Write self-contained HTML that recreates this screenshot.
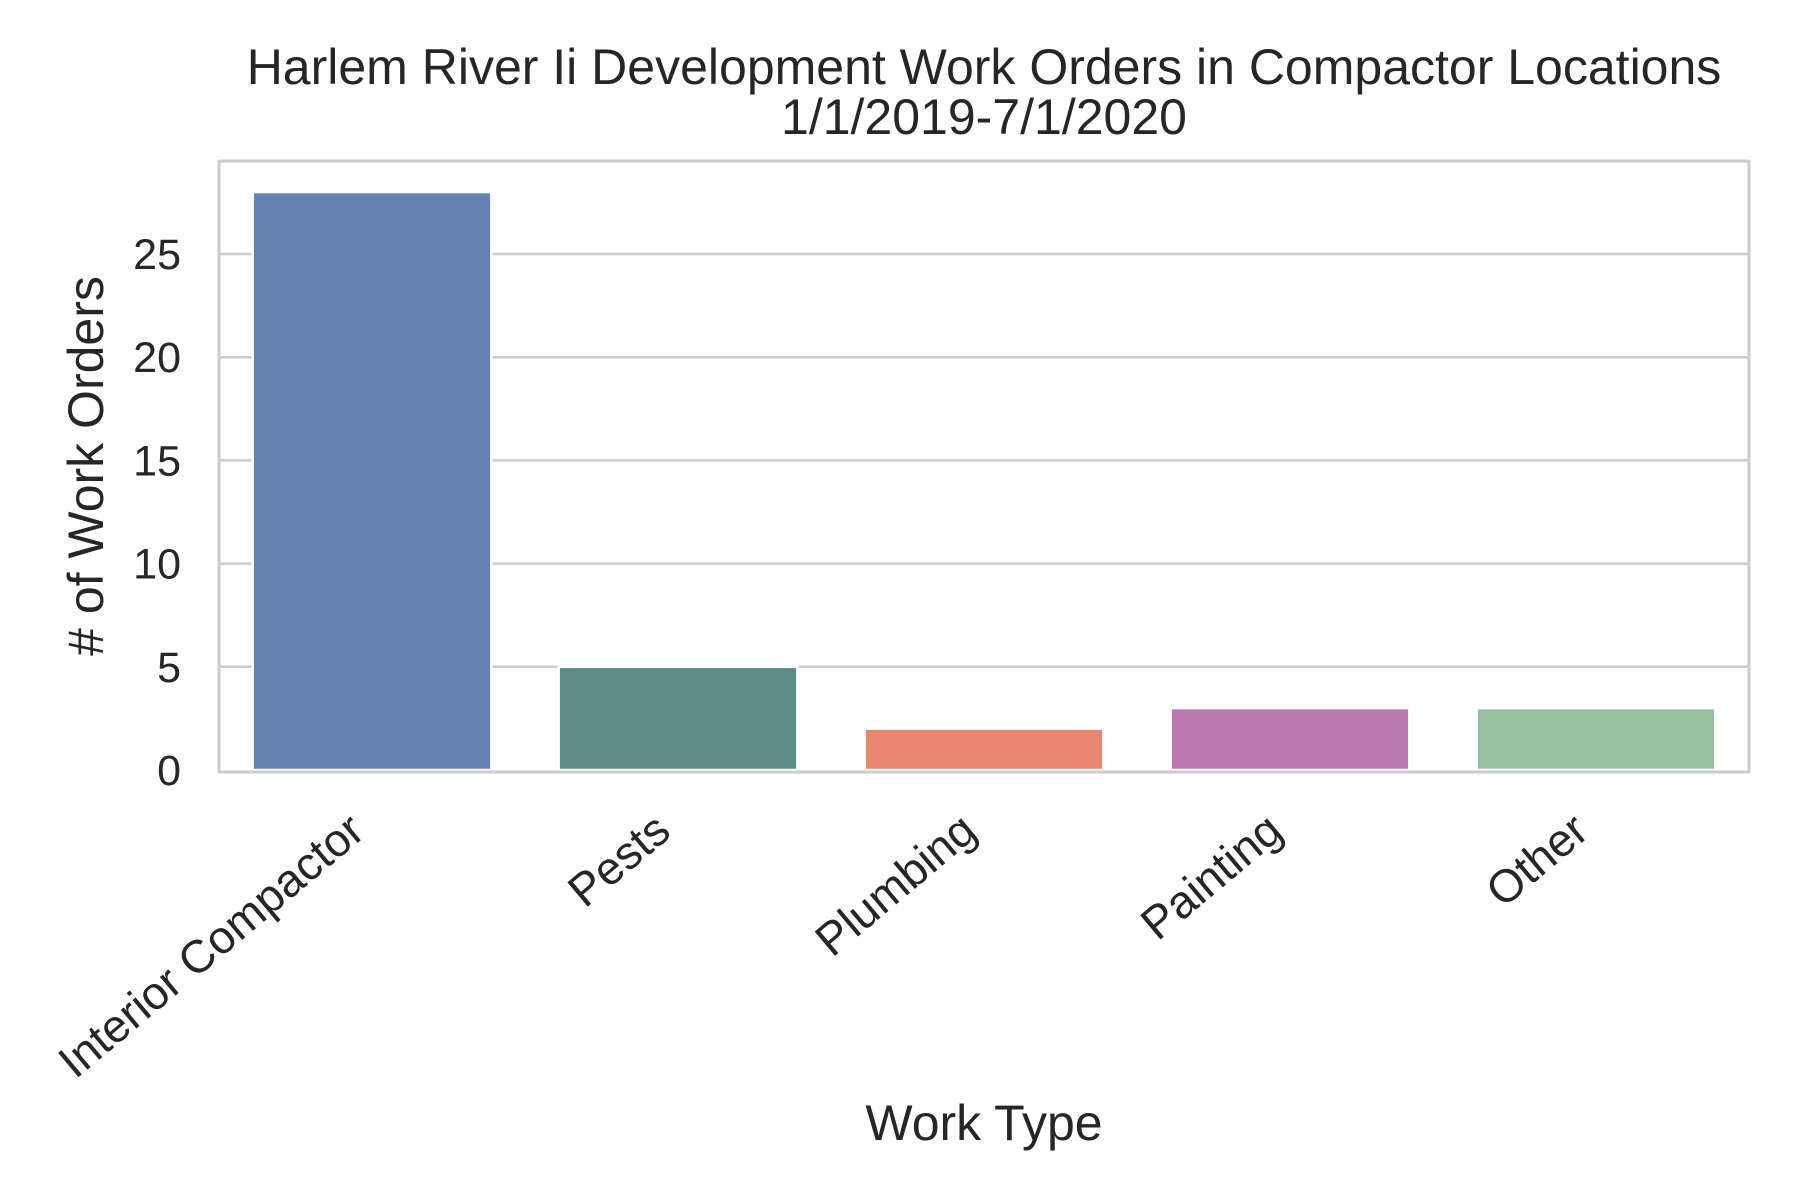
<!DOCTYPE html>
<html><head><meta charset="utf-8"><style>body{margin:0;background:#fff}svg{display:block}text{font-family:"Liberation Sans",Arial,sans-serif;fill:#262626}</style></head>
<body>
<svg id="chart" width="1800" height="1200" xmlns="http://www.w3.org/2000/svg">
<text x="984" y="84" font-size="50" text-anchor="middle">Harlem River Ii Development Work Orders in Compactor Locations</text>
<text x="984" y="134" font-size="50" text-anchor="middle">1/1/2019-7/1/2020</text>
<g id="grid"></g><g id="bars"></g><g id="yticks"></g><g id="xticks"></g>
<rect x="219" y="161" width="1530" height="611" fill="none" stroke="#cccccc" stroke-width="3"/>
<text transform="translate(103,466) rotate(-90)" font-size="50" text-anchor="middle"># of Work Orders</text>
<text x="984" y="1140" font-size="50" text-anchor="middle">Work Type</text>
</svg>
<script>
const categories=["Interior Compactor","Pests","Plumbing","Painting","Other"];
const values=[28,5,2,3,3];
const colors=["#6581b1","#5c8a87","#e9866f","#be7aae","#96c0a2"];
const yTicks=[0,5,10,15,20,25];
const NS="http://www.w3.org/2000/svg";
const L=219,R=1749,T=161,B=772;
const y0=770,yUnit=(770-254)/25;
function ys(v){return y0-v*yUnit;}
const step=(R-L)/categories.length;
function xc(i){return L+step*(i+0.5);}
const bw=step*0.78;
function mk(t,a,p){const e=document.createElementNS(NS,t);for(const k in a)e.setAttribute(k,a[k]);document.getElementById(p).appendChild(e);return e;}
yTicks.forEach(v=>{
 if(v>0){const g=mk('line',{x1:L,x2:R,y1:ys(v),y2:ys(v),stroke:'#cccccc','stroke-width':2.5},'grid');
 
 }
 const t=mk('text',{x:181,y:ys(v)+15,'font-size':43,'text-anchor':'end'},'yticks');t.textContent=v;
 
 
});
categories.forEach((c,i)=>{
 const b=mk('rect',{x:xc(i)-bw/2,y:ys(values[i]),width:bw,height:y0-ys(values[i]),fill:colors[i],stroke:'#fff','stroke-width':2.5},'bars');
 
 
 const t=mk('text',{transform:`translate(${xc(i)-5},${835}) rotate(-40)`,'font-size':46,'text-anchor':'end'},'xticks');t.textContent=c;
 
 
});
</script>
</body></html>
